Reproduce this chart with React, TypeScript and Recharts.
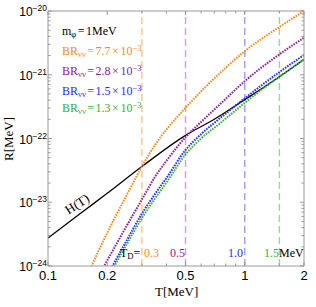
import React from 'react';
import { LineChart, Line, XAxis, YAxis, ReferenceLine } from 'recharts';

const W = 316;
const H = 307;

// H(T), Hubble rate
const hubbleT = [0.1, 0.15, 0.2, 0.3, 0.5, 0.7, 1, 1.5, 2];
const hubbleR = [2.75e-24, 7.08e-24, 1.38e-23, 3.63e-23, 1.12e-22, 2.0e-22, 4.07e-22, 9.33e-22, 1.74e-21];

// BR = 7.7e-3
const br77T = [0.16, 0.1667, 0.2, 0.25, 0.3, 0.35, 0.4, 0.5, 0.6, 0.75, 1, 1.5, 2];
const br77R = [7.41e-25, 1.0e-24, 3.31e-24, 1.26e-23, 3.63e-23, 7.94e-23, 1.38e-22, 3.02e-22, 5.5e-22, 1.07e-21, 2.34e-21, 5.62e-21, 1.0e-20];

// BR = 2.8e-3
const br28T = [0.185, 0.2, 0.25, 0.3, 0.35, 0.4, 0.5, 0.6, 0.75, 1, 1.5, 2];
const br28R = [7.94e-25, 1.22e-24, 4.17e-24, 1.1e-23, 2.51e-23, 4.47e-23, 1.05e-22, 1.82e-22, 3.47e-22, 7.94e-22, 2.09e-21, 3.8e-21];

// BR = 1.5e-3
const br15T = [0.205, 0.25, 0.3, 0.35, 0.4, 0.5, 0.6, 0.75, 1, 1.5, 2];
const br15R = [8.13e-25, 2.45e-24, 6.61e-24, 1.35e-23, 2.4e-23, 6.61e-23, 1.17e-22, 2.09e-22, 4.27e-22, 1.1e-21, 2.04e-21];

// BR = 1.3e-3
const br13T = [0.21, 0.25, 0.3, 0.35, 0.4, 0.5, 0.6, 0.75, 1, 1.5, 2];
const br13R = [8.13e-25, 2.14e-24, 5.62e-24, 1.15e-23, 2.04e-23, 5.62e-23, 1.0e-22, 1.74e-22, 3.63e-22, 9.33e-22, 1.74e-21];

const brLabels = ['7.7', '2.8', '1.5', '1.3'];
const curveColors = ['#FF8A1C', '#8E2290', '#2A2AFF', '#38B038'];

// decoupling temperatures (MeV)
const tD = [0.3, 0.5, 1.0, 1.5];
const tDLabels = ['0.3', '0.5', '1.0', '1.5'];
const tDColors = ['#FFC48A', '#D89CDC', '#9C9CF4', '#96DA96'];

const xTicks = [0.1, 0.2, 0.3, 0.4, 0.5, 0.6, 0.7, 0.8, 0.9, 1, 1.5, 2];
const xMajor = [0.1, 0.2, 0.5, 1, 2];
const yDecades = [-24, -23, -22, -21];
const yMant = [1, 2, 3, 4, 5, 6, 7, 8, 9];
const yTicks = [...yDecades.flatMap((d) => yMant.map((m) => m * 10 ** d)), 1e-20];

const toPts = (t: number[], r: number[]) => t.map((T, i) => ({ T, R: r[i] }));
const series = [
  toPts(br77T, br77R),
  toPts(br28T, br28R),
  toPts(br15T, br15R),
  toPts(br13T, br13R),
];
const hubble = toPts(hubbleT, hubbleR);

const serif = '"Liberation Serif", "Times New Roman", serif';
const sans = '"Liberation Sans", Arial, sans-serif';
const frame = '#999';

const yExp = (v: number) => Math.round(Math.log10(v));
const yIsMajor = (v: number) => Math.abs(v / 10 ** yExp(v) - 1) < 1e-6;

function XTick({ x, y, payload, side }: any) {
  const v = payload.value;
  const major = xMajor.includes(v);
  const len = major ? 4 : 2.5;
  const dir = side === 'top' ? 1 : -1;
  return (
    <g>
      <line x1={x} x2={x} y1={y} y2={y + dir * len} stroke={frame} />
      {side === 'bottom' && major && (
        <text x={x} y={y + 14} textAnchor="middle" fontFamily={sans} fontSize={13} fill="#000">
          {String(v)}
        </text>
      )}
    </g>
  );
}

function YTick({ x, y, payload, side }: any) {
  const v = payload.value;
  const major = yIsMajor(v);
  const len = major ? 4 : 2.5;
  const dir = side === 'left' ? 1 : -1;
  return (
    <g>
      <line x1={x} x2={x + dir * len} y1={y} y2={y} stroke={frame} />
      {side === 'left' && major && (
        <text x={x - 1} y={y + 5} textAnchor="end" fontFamily={sans} fontSize={12} fill="#000">
          10
          <tspan dy={-5} fontSize={8.5}>{`\u2212${-yExp(v)}`}</tspan>
        </text>
      )}
    </g>
  );
}

const sub: React.CSSProperties = { fontSize: '0.72em', verticalAlign: '-0.28em', lineHeight: 0 };
const sup: React.CSSProperties = { fontSize: '0.72em', verticalAlign: '0.45em', lineHeight: 0 };
const op: React.CSSProperties = { margin: '0 1.5px' };

function Txt({ x, base, size = 11, color = '#000', children }: any) {
  return (
    <div
      style={{
        position: 'absolute',
        left: x,
        top: base - 0.8375 * size,
        fontFamily: serif,
        fontSize: size,
        lineHeight: `${size}px`,
        color,
        whiteSpace: 'nowrap',
      }}
    >
      {children}
    </div>
  );
}

export default function App() {
  const legendBase = [55, 75, 95, 112];
  const tDx = [144, 170, 228, 264];
  return (
    <div style={{ position: 'absolute', left: 0, top: 0, width: W, height: H, background: '#fff' }}>
      <LineChart width={W} height={H} margin={{ top: 0, right: 0, bottom: 0, left: 0 }}>
        <XAxis
          dataKey="T"
          type="number"
          scale="log"
          domain={[0.1, 2]}
          allowDataOverflow
          ticks={xTicks}
          interval={0}
          height={41}
          tickSize={0}
          tickMargin={0}
          axisLine={{ stroke: frame }}
          tickLine={false}
          tick={(p: any) => <XTick {...p} side="bottom" />}
        />
        <XAxis
          xAxisId="top"
          orientation="top"
          dataKey="T"
          type="number"
          scale="log"
          domain={[0.1, 2]}
          allowDataOverflow
          ticks={xTicks}
          interval={0}
          height={11}
          tickSize={0}
          tickMargin={0}
          axisLine={{ stroke: frame }}
          tickLine={false}
          tick={(p: any) => <XTick {...p} side="top" />}
        />
        <YAxis
          type="number"
          scale="log"
          domain={[1e-24, 1e-20]}
          allowDataOverflow
          ticks={yTicks}
          interval={0}
          width={48}
          tickSize={0}
          tickMargin={0}
          axisLine={{ stroke: frame }}
          tickLine={false}
          tick={(p: any) => <YTick {...p} side="left" />}
        />
        <YAxis
          yAxisId="right"
          orientation="right"
          type="number"
          scale="log"
          domain={[1e-24, 1e-20]}
          allowDataOverflow
          ticks={yTicks}
          interval={0}
          width={12}
          tickSize={0}
          tickMargin={0}
          axisLine={{ stroke: frame }}
          tickLine={false}
          tick={(p: any) => <YTick {...p} side="right" />}
        />
        {tD.map((t, i) => (
          <ReferenceLine key={t} x={t} stroke={tDColors[i]} strokeWidth={1.4} strokeDasharray="7 4" />
        ))}
        <Line
          data={hubble}
          dataKey="R"
          type="monotone"
          stroke="#000"
          strokeWidth={1.3}
          dot={false}
          isAnimationActive={false}
        />
        {series.map((d, i) => (
          <Line
            key={i}
            data={d}
            dataKey="R"
            type="monotone"
            stroke={curveColors[i]}
            strokeWidth={2}
            strokeDasharray="1.6 1.1"
            dot={false}
            isAnimationActive={false}
          />
        ))}
      </LineChart>

      <Txt x={62} base={35} size={12}>
        m<span style={sub}>φ</span>
        <span style={op}>=</span>1MeV
      </Txt>
      {brLabels.map((b, i) => (
        <Txt key={b} x={62} base={legendBase[i]} size={12} color={curveColors[i]}>
          BR<span style={sub}>νν</span>
          <span style={op}>=</span>
          {b}
          <span style={op}>×</span>10<span style={sup}>−3</span>
        </Txt>
      ))}

      <Txt x={120} base={257} size={12}>
        T<span style={sub}>D</span>=
      </Txt>
      {tDLabels.map((l, i) => (
        <Txt key={l} x={tDx[i]} base={257} size={12} color={curveColors[i]}>
          {l}
        </Txt>
      ))}
      <Txt x={279} base={257} size={12}>
        MeV
      </Txt>

      <div
        style={{
          position: 'absolute',
          left: 77,
          top: 204,
          transform: 'translate(-50%, -50%) rotate(-33deg)',
          fontFamily: serif,
          fontSize: 13,
          lineHeight: '13px',
          whiteSpace: 'nowrap',
        }}
      >
        H(T)
      </div>
      <Txt x={155} base={296} size={13}>
        T[MeV]
      </Txt>
      <div
        style={{
          position: 'absolute',
          left: 8,
          top: 139,
          transform: 'translate(-50%, -50%) rotate(-90deg)',
          fontFamily: serif,
          fontSize: 13,
          lineHeight: '13px',
          whiteSpace: 'nowrap',
        }}
      >
        R[MeV]
      </div>
    </div>
  );
}
